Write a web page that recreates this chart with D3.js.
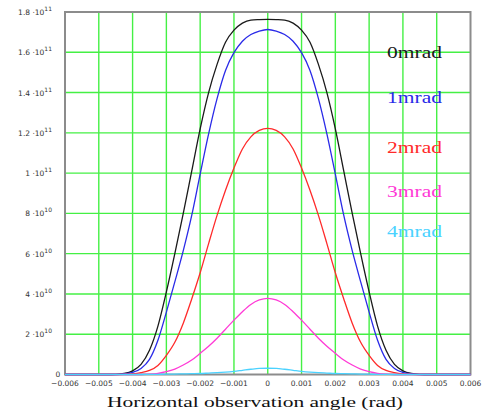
<!DOCTYPE html>
<html><head><meta charset="utf-8">
<script src="https://cdn.jsdelivr.net/npm/d3@7"></script>
<style>html,body{margin:0;padding:0;background:#fff;}svg{display:block;}</style>
</head><body>
<script>
// Horizontal observation angle (mrad -> rad below)
const angleMrad = [-6,-5,-4.75,-4.5,-4.25,-4,-3.75,-3.5,-3.25,-3,-2.75,-2.5,-2.25,-2,-1.75,-1.5,-1.25,-1,-0.75,-0.5,-0.25,0,0.25,0.5,0.75,1,1.25,1.5,1.75,2,2.25,2.5,2.75,3,3.25,3.5,3.75,4,4.25,4.5,4.75,5,6];
// Intensity in units of 1e10
const s0mrad = [0,0, 0,0.01,0.05,0.18,0.5,1.2,2.4,4.1,6.0,8.0,10.1,12.2,14.0,15.4,16.5,17.1,17.45,17.6,17.62, 17.63, 17.62,17.6,17.45,17.1,16.5,15.4,14.0,12.2,10.1,8.0,6.0,4.1,2.4,1.2,0.5,0.18,0.05,0.01,0, 0,0];
const s1mrad = [0,0, 0,0,0.03,0.1,0.3,0.75,1.7,3.1,4.6,6.15,7.9,9.95,11.95,13.7,15.1,15.98,16.55,16.88,17.05, 17.13, 17.05,16.88,16.55,15.98,15.1,13.7,11.95,9.95,7.9,6.15,4.6,3.1,1.7,0.75,0.3,0.1,0.03,0,0, 0,0];
const s2mrad = [0,0, 0,0,0.01,0.03,0.09,0.2,0.45,0.95,1.6,2.55,3.75,5.05,6.5,7.9,9.15,10.25,11.2,11.8,12.12, 12.22, 12.12,11.8,11.2,10.25,9.15,7.9,6.5,5.05,3.75,2.55,1.6,0.95,0.45,0.2,0.09,0.03,0.01,0,0, 0,0];
const s3mrad = [0,0, 0,0,0,0,0,0.02,0.06,0.14,0.27,0.47,0.72,1.05,1.4,1.8,2.25,2.7,3.12,3.48,3.7, 3.78, 3.7,3.48,3.12,2.7,2.25,1.8,1.4,1.05,0.72,0.47,0.27,0.14,0.06,0.02,0,0,0,0,0, 0,0];
const s4mrad = [0,0, 0,0,0,0,0,0.005,0.01,0.015,0.02,0.03,0.04,0.05,0.07,0.09,0.12,0.16,0.21,0.26,0.3, 0.31, 0.3,0.26,0.21,0.16,0.12,0.09,0.07,0.05,0.04,0.03,0.02,0.015,0.01,0.005,0,0,0,0,0, 0,0];
const seriesNames = ["0mrad","1mrad","2mrad","3mrad","4mrad"];
const seriesValues = [s0mrad, s1mrad, s2mrad, s3mrad, s4mrad];
const seriesColors = ["#1a1a1a","#2a2ae8","#ff2a2a","#ff3ad6","#4ad2ff"];
const xTicks = [-0.006,-0.005,-0.004,-0.003,-0.002,-0.001,0,0.001,0.002,0.003,0.004,0.005,0.006];
const xTickLabels = ["\u22120.006","\u22120.005","\u22120.004","\u22120.003","\u22120.002","\u22120.001","0","0.001","0.002","0.003","0.004","0.005","0.006"];
const yTicks = [0,2,4,6,8,10,12,14,16,18];
const yTickMantissa = ["0","2","4","6","8","1","1.2","1.4","1.6","1.8"];
const yTickExponent = ["","10","10","10","10","11","11","11","11","11"];
const xTitle = "Horizontal observation angle (rad)";

const W = 483, H = 416;
const m = {left: 65, right: 12.5, top: 12, bottom: 41.5};
const svg = d3.select("body").append("svg").attr("width", W).attr("height", H);
const x = d3.scaleLinear().domain([-0.006, 0.006]).range([m.left, W - m.right]);
const y = d3.scaleLinear().domain([0, 18]).range([H - m.bottom, m.top]);

// grid
const g = svg.append("g");
g.selectAll("line.v").data(xTicks.slice(1, -1)).join("line")
  .attr("x1", d => x(d)).attr("x2", d => x(d)).attr("y1", y(0)).attr("y2", y(18))
  .attr("stroke", "#44f044").attr("stroke-width", 1.4);
g.selectAll("line.h").data(yTicks.slice(1, -1)).join("line")
  .attr("y1", d => y(d)).attr("y2", d => y(d)).attr("x1", x(-0.006)).attr("x2", x(0.006))
  .attr("stroke", "#44f044").attr("stroke-width", 1.4);

// frame
svg.append("rect").attr("x", x(-0.006)).attr("y", y(18))
  .attr("width", x(0.006) - x(-0.006)).attr("height", y(0) - y(18))
  .attr("fill", "none").attr("stroke", "#8c8c8c").attr("stroke-width", 2);

// curves
const line = d3.line().x((d, i) => x(angleMrad[i] / 1000)).y(d => y(d)).curve(d3.curveMonotoneX);
seriesValues.forEach((vals, k) => {
  svg.append("path").attr("d", line(vals)).attr("fill", "none")
    .attr("stroke", seriesColors[k]).attr("stroke-width", 1.3);
});

// y tick labels
yTicks.forEach((t, i) => {
  if (i === 0) {
    svg.append("text").attr("x", 55.5).attr("y", y(t) + 2).attr("font-family", "DejaVu Sans")
      .attr("font-size", 7.5).attr("fill", "#333").text("0");
    return;
  }
  const tx = svg.append("text").attr("x", 52).attr("y", y(t) + 3)
    .attr("text-anchor", "end").attr("font-family", "DejaVu Sans")
    .attr("font-size", 7.5).attr("fill", "#333");
  tx.append("tspan").text(yTickMantissa[i] + " \u00b710");
  tx.append("tspan").attr("dy", -4).attr("font-size", 6).text(yTickExponent[i]);
});

// x tick labels
svg.selectAll("text.xt").data(xTicks).join("text")
  .attr("x", d => x(d)).attr("y", y(0) + 11).attr("text-anchor", "middle")
  .attr("font-family", "DejaVu Sans").attr("font-size", 7.5).attr("fill", "#333")
  .text((d, i) => xTickLabels[i]);

// x title
svg.append("text").attr("x", 107).attr("y", 406.5)
  .attr("font-family", "Liberation Serif").attr("font-size", 15.5).attr("fill", "#111")
  .attr("textLength", 296).attr("lengthAdjust", "spacingAndGlyphs").text(xTitle);

// legend labels
const legendY = [58, 103, 153, 197, 237];
seriesNames.forEach((n, k) => {
  svg.append("text").attr("x", 387).attr("y", legendY[k])
    .attr("font-family", "Liberation Serif").attr("font-size", 16.5)
    .attr("fill", seriesColors[k]).attr("textLength", 55).attr("lengthAdjust", "spacingAndGlyphs")
    .text(n);
});
</script>
</body></html>
